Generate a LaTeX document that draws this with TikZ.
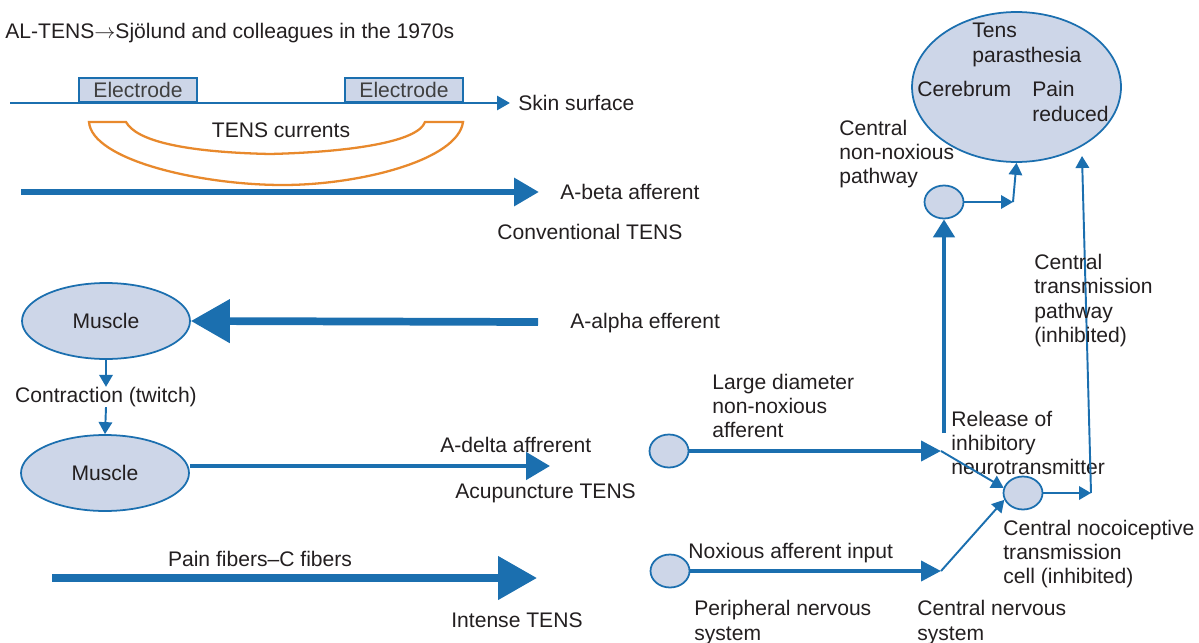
\documentclass[tikz,border=0pt]{standalone}
\usepackage{fontspec}
\setmainfont{Liberation Sans}
\usepackage{tikz}
\usetikzlibrary{positioning, arrows.meta, shapes.geometric}

\definecolor{tensblue}{HTML}{1B6FAF}
\definecolor{cellfill}{HTML}{CDD6E8}
\definecolor{currentorange}{HTML}{E8892C}
\definecolor{inktext}{HTML}{231F20}

\begin{document}
\begin{tikzpicture}[x=0.02cm, y=-0.02cm]
\tikzset{
    every node/.style={font=\fontsize{12}{13.8}\selectfont, text=inktext, inner sep=0pt, align=center},
    label text/.style={anchor=west, align=left},
    electrode/.style={draw=tensblue, line width=1pt, fill=cellfill, minimum width=2.36cm, minimum height=0.48cm, text=black!75},
    muscle/.style={ellipse, draw=tensblue, line width=1pt, fill=cellfill, minimum width=3.36cm, minimum height=1.52cm},
    brain/.style={ellipse, draw=tensblue, line width=1pt, fill=cellfill, minimum width=4.18cm, minimum height=3cm},
    cell/.style={ellipse, draw=tensblue, line width=1pt, fill=cellfill, minimum width=0.78cm, minimum height=0.66cm},
    current/.style={draw=currentorange, line width=1.3pt},
    skin arrow/.style={draw=tensblue, line width=1.6pt, -{Triangle[length=0.26cm, width=0.28cm]}},
    fat arrow/.style={draw=tensblue, line width=4.4pt, -{Triangle[length=0.78cm, width=0.84cm]}},
    wide arrow/.style={draw=tensblue, line width=3.8pt, -{Triangle[length=0.5cm, width=0.54cm]}},
    delta arrow/.style={draw=tensblue, line width=2.7pt, -{Triangle[length=0.48cm, width=0.54cm]}},
    mid arrow/.style={draw=tensblue, line width=2.3pt, -{Triangle[length=0.4cm, width=0.4cm]}},
    rise arrow/.style={draw=tensblue, line width=2.6pt, -{Triangle[length=0.36cm, width=0.42cm]}},
    thin arrow/.style={draw=tensblue, line width=1.1pt, -{Triangle[length=0.24cm, width=0.27cm]}}
}
\useasboundingbox (0,0) rectangle (1199,642);

\node[label text] (title) at (5,33) {AL-TENS$\rightarrow$Sjölund and colleagues in the 1970s};

\node[electrode] (electrodeL) at (138,90) {Electrode};
\node[electrode] (electrodeR) at (404,90) {Electrode};
\coordinate (skinStart) at (10,103);
\coordinate (skinEnd) at (510,103);
\draw[skin arrow] (skinStart) -- (skinEnd);
\node[label text] (skin) at (518,103) {Skin surface};

\draw[current] (89,122) -- (126,122) .. controls (136,140) and (180,152) .. (270,154)
    .. controls (350,152) and (418,142) .. (425,122) -- (463,122)
    .. controls (458,160) and (360,185) .. (283,185)
    .. controls (200,185) and (92,160) .. cycle;
\node (currents) at (281,130) {TENS currents};

\coordinate (abetaStart) at (21,192);
\coordinate (abetaEnd) at (539,192);
\draw[wide arrow] (abetaStart) -- (abetaEnd);
\node[label text] (abeta) at (560,192) {A-beta afferent};
\node[label text] (conventional) at (497,232) {Conventional TENS};

\node[muscle] (muscle1) at (106,321) {Muscle};
\coordinate (aalphaStart) at (538,322);
\draw[fat arrow] (aalphaStart) -- (muscle1.east);
\node[label text] (aalpha) at (570,323) {A-alpha efferent};

\node (twitch) at (106,397) {Contraction (twitch)};
\node[muscle] (muscle2) at (105,473) {Muscle};
\draw[thin arrow] (muscle1.south) -- (twitch.north);
\draw[thin arrow] (twitch.south) -- (muscle2.north);

\coordinate (adeltaEnd) at (550,466);
\draw[delta arrow] (muscle2.east |- adeltaEnd) -- (adeltaEnd);
\node[label text] (adelta) at (440,445) {A-delta affrerent};
\node[label text] (acupuncture) at (455,493) {Acupuncture TENS};

\coordinate (painStart) at (52,578);
\coordinate (painEnd) at (537,578);
\draw[fat arrow] (painStart) -- (painEnd);
\node (pain) at (260,559) {Pain fibers–C fibers};
\node[label text] (intense) at (451,620) {Intense TENS};

\node[brain] (cerebrum) at (1016.5,87) {};
\node[label text] (parasthesia) at (972,45) {Tens\\parasthesia};
\node[label text] (cerebrumtext) at (917,89) {Cerebrum};
\node[label text] (reduced) at (1032,101.5) {Pain\\reduced};

\node[label text] (nonnoxtext) at (839,154) {Central\\non-noxious\\pathway};
\node[cell] (nonnox) at (944,202) {};
\coordinate (nonnoxTurn) at (1013,202);
\draw[thin arrow] (nonnox.east) -- (nonnoxTurn);
\draw[thin arrow] (nonnoxTurn) -- (cerebrum.south);

\node[cell] (large) at (669,451) {};
\coordinate (largeEnd) at (941,451);
\draw[mid arrow] (large.east) -- (largeEnd);
\node[label text] (largetext) at (712,406) {Large diameter\\non-noxious\\afferent};

\coordinate (releaseBase) at (944,433);
\draw[rise arrow] (releaseBase) -- (nonnox.south);
\node[label text] (release) at (951,443) {Release of\\inhibitory\\neurotransmitter};

\node[cell] (ncell) at (1023,493) {};
\draw[thin arrow] (largeEnd) -- (ncell.165);
\coordinate (transTurn) at (1091,493);
\coordinate (transTop) at (1082,156);
\draw[thin arrow] (ncell.east) -- (transTurn);
\draw[thin arrow] (transTurn) -- (transTop);
\node[label text] (transmission) at (1034,300.5) {Central\\transmission\\pathway\\(inhibited)};

\node[cell] (nox) at (670,571) {};
\coordinate (noxEnd) at (941,571);
\draw[mid arrow] (nox.east) -- (noxEnd);
\draw[thin arrow] (noxEnd) -- (ncell.200);
\node[label text] (noxtext) at (688,553) {Noxious afferent input};

\node[label text] (ncelltext) at (1003,554) {Central nocoiceptive\\transmission\\cell (inhibited)};
\node[label text] (peripheral) at (694,622.5) {Peripheral nervous\\system};
\node[label text] (central) at (917,622.5) {Central nervous\\system};
\end{tikzpicture}
\end{document}
